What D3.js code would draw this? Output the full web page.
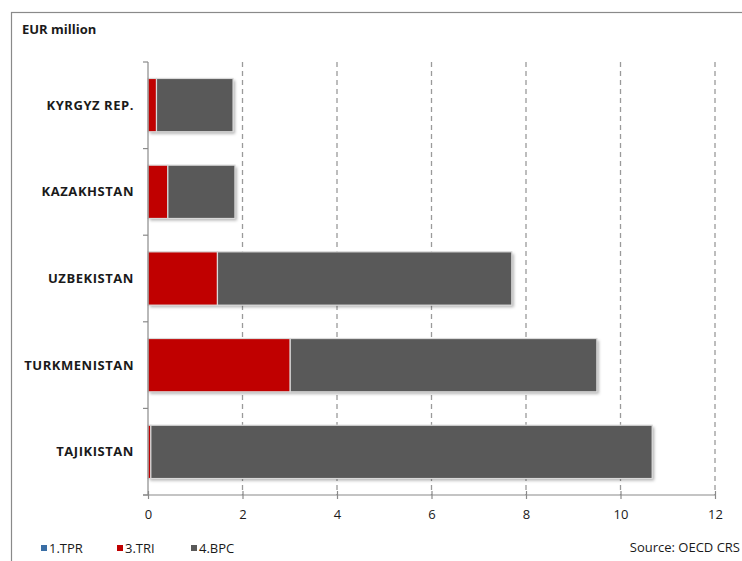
<!DOCTYPE html>
<html><head><meta charset="utf-8">
<script src="https://cdn.jsdelivr.net/npm/d3@7"></script>
<style>body{margin:0;background:#fff}svg{display:block}</style>
</head><body><svg id="c" width="742" height="561"></svg>
<script>
const categories = ["KYRGYZ REP.", "KAZAKHSTAN", "UZBEKISTAN", "TURKMENISTAN", "TAJIKISTAN"];
const seriesNames = ["1.TPR", "3.TRI", "4.BPC"];
const tprValues = [0, 0, 0, 0, 0];
const triValues = [0.18, 0.42, 1.47, 3.01, 0.06];
const bpcValues = [1.62, 1.42, 6.23, 6.49, 10.61];
const xTicks = [0, 2, 4, 6, 8, 10, 12];
const colors = ["#3a6ea5", "#c00000", "#595959"];

const svg = d3.select("#c");
const defs = svg.append("defs");
const f = defs.append("filter").attr("id","sh").attr("x","-5%").attr("y","-10%").attr("width","115%").attr("height","130%");
f.append("feDropShadow").attr("dx",2).attr("dy",2).attr("stdDeviation",1.5).attr("flood-color","#000").attr("flood-opacity",0.3);

svg.append("rect").attr("x",11.5).attr("y",12.5).attr("width",760).attr("height",580)
  .attr("fill","#fff").attr("stroke","#8a8a8a").attr("stroke-width",1.2);

const L = 148, R = 715, T = 62, B = 495;
const x = d3.scaleLinear().domain([0,12]).range([L,R]);
const y = d3.scaleBand().domain(categories).range([T,B]).paddingInner(0.385).paddingOuter(0.19);
const FONT = "'Open Sans', sans-serif";

// gridlines
svg.append("g").selectAll("line").data(xTicks.filter(d=>d>0)).join("line")
  .attr("x1",d=>x(d)).attr("x2",d=>x(d)).attr("y1",T).attr("y2",B)
  .attr("stroke","#9a9a9a").attr("stroke-width",1.3).attr("stroke-dasharray","5,4");

// stacked data
const rows = categories.map((c,i)=>({cat:c, "1.TPR":tprValues[i], "3.TRI":triValues[i], "4.BPC":bpcValues[i]}));
const stack = d3.stack().keys(seriesNames)(rows);

// shadow of whole bar
svg.append("g").selectAll("rect").data(rows).join("rect")
  .attr("x",x(0)).attr("y",d=>y(d.cat))
  .attr("width",d=>x(d["1.TPR"]+d["3.TRI"]+d["4.BPC"])-x(0))
  .attr("height",y.bandwidth()).attr("fill","#fff").attr("filter","url(#sh)");

svg.append("g").selectAll("g").data(stack).join("g")
  .attr("fill",(d,i)=>colors[i])
  .selectAll("rect").data(d=>d).join("rect")
  .attr("x",d=>x(d[0])).attr("y",d=>y(d.data.cat))
  .attr("width",d=>Math.max(0,x(d[1])-x(d[0]))).attr("height",y.bandwidth())
  .attr("stroke",d=>(d[1]-d[0])>0?"#d9d9d9":"none").attr("stroke-width",1.2);

// y axis
const ya = svg.append("g").attr("transform",`translate(${L},0)`);
ya.append("line").attr("x1",0).attr("x2",0).attr("y1",T).attr("y2",B).attr("stroke","#8a8a8a").attr("stroke-width",1.2);
const bounds = d3.range(categories.length+1).map(i=>T+i*(B-T)/categories.length);
ya.selectAll("line.t").data(bounds).join("line").attr("class","t")
  .attr("x1",-5).attr("x2",0).attr("y1",d=>d).attr("y2",d=>d).attr("stroke","#8a8a8a").attr("stroke-width",1.2);
ya.selectAll("text").data(categories).join("text")
  .attr("x",-14).attr("y",d=>y(d)+y.bandwidth()/2).attr("dy","0.35em")
  .attr("text-anchor","end").attr("font-family",FONT).attr("font-weight","bold")
  .attr("font-size",13).attr("letter-spacing",0.55).attr("fill","#1a1a1a").text(d=>d);

// x axis
const xa = svg.append("g").attr("transform",`translate(0,${B})`)
  .call(d3.axisBottom(x).tickValues(xTicks).tickSize(0).tickPadding(15).tickFormat(d3.format("d")));
xa.select(".domain").attr("stroke","#8a8a8a").attr("stroke-width",1.2).attr("d",`M${L-5},0H${R}`);
xa.selectAll(".tick").append("line").attr("y1",-4).attr("y2",4).attr("stroke","#8a8a8a").attr("stroke-width",1.2);
xa.selectAll("text").attr("font-family",FONT).attr("font-size",13).attr("fill","#1a1a1a");

// title
svg.append("text").attr("x",22).attr("y",34).attr("font-family",FONT)
  .attr("font-weight","bold").attr("font-size",13).attr("fill","#1a1a1a").text("EUR million");

// legend
const legX = [41, 117, 191];
const lg = svg.append("g").selectAll("g").data(seriesNames).join("g")
  .attr("transform",(d,i)=>`translate(${legX[i]},551)`);
lg.append("rect").attr("x",0).attr("y",-6).attr("width",6).attr("height",6).attr("fill",(d,i)=>colors[i]);
lg.append("text").attr("x",8).attr("y",0).attr("dy","0.15em").attr("font-family",FONT)
  .attr("font-size",13).attr("fill","#1a1a1a").text(d=>d);

svg.append("text").attr("x",740).attr("y",552).attr("text-anchor","end")
  .attr("font-family",FONT).attr("font-size",13).attr("fill","#1a1a1a").text("Source: OECD CRS");
</script></body></html>
